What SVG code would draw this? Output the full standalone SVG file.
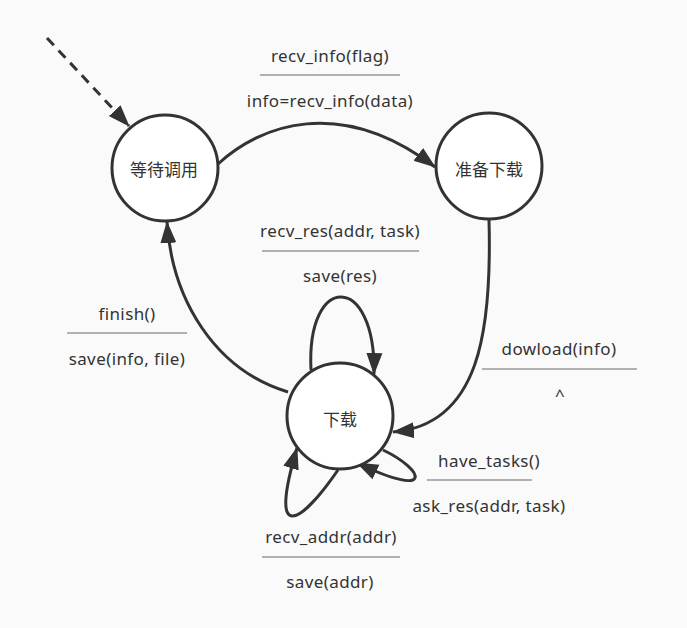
<svg xmlns="http://www.w3.org/2000/svg" width="687" height="628" viewBox="0 0 687 628">
<style>
.node{fill:#fff;stroke:#333;stroke-width:3}
.nt{font-family:"Noto Sans CJK SC","Noto Sans",sans-serif;font-size:17px;fill:#333;text-anchor:middle}
.lt{font-family:"Noto Sans","Liberation Sans",sans-serif;font-size:17px;letter-spacing:0.4px;fill:#333;text-anchor:middle}
.sep{stroke:#999;stroke-width:1.5}
.edge{fill:none;stroke:#333;stroke-width:3;marker-end:url(#arr)}
</style>
<defs>
<marker id="arr" markerWidth="24" markerHeight="18" refX="21" refY="9" orient="auto" markerUnits="userSpaceOnUse">
<path d="M0,1 L22,9 L0,17 z" fill="#333"/>
</marker>
</defs>
<rect width="687" height="628" fill="#fafafa"/>
<g id="connectors">
<path class="edge" d="M47,38 L129,126" stroke-dasharray="10,7"/>
<path class="edge" d="M218,164 C260,125 340,95 435,167"/>
<path class="edge" d="M489,220 C492,330 480,425 393,432"/>
<path class="edge" d="M288,392 C215,370 172,300 167,222"/>
<path class="edge" d="M311,370 C306,272 376,272 374,374"/>
<path class="edge" d="M383,450 C425,470 435,500 357,463"/>
<path class="edge" d="M338,470 C300,525 268,545 297,448"/>
</g>
<g id="labels">
<text class="lt" x="330" y="62">recv_info(flag)</text>
<line class="sep" x1="260" y1="75" x2="400" y2="75"/>
<text class="lt" x="330" y="107">info=recv_info(data)</text>
<text class="lt" x="340" y="237">recv_res(addr, task)</text>
<line class="sep" x1="262" y1="251" x2="419" y2="251"/>
<text class="lt" x="340" y="282">save(res)</text>
<text class="lt" x="127" y="320">finish()</text>
<line class="sep" x1="67" y1="333" x2="187" y2="333"/>
<text class="lt" x="127" y="365">save(info, file)</text>
<text class="lt" x="559" y="355">dowload(info)</text>
<line class="sep" x1="482" y1="369" x2="637" y2="369"/>
<text class="lt" x="560" y="401">^</text>
<text class="lt" x="489" y="467">have_tasks()</text>
<line class="sep" x1="427" y1="480" x2="532" y2="480"/>
<text class="lt" x="489" y="512">ask_res(addr, task)</text>
<text class="lt" x="331" y="543">recv_addr(addr)</text>
<line class="sep" x1="262" y1="557" x2="400" y2="557"/>
<text class="lt" x="330" y="588">save(addr)</text>
</g>
<g id="node-wait">
<circle class="node" cx="165" cy="168" r="53"/>
<text class="nt" x="164" y="176">等待调用</text>
</g>
<g id="node-prepare">
<circle class="node" cx="489" cy="166" r="53"/>
<text class="nt" x="489" y="176">准备下载</text>
</g>
<g id="node-download">
<circle class="node" cx="340" cy="416" r="53"/>
<text class="nt" x="340" y="426">下载</text>
</g>
</svg>
